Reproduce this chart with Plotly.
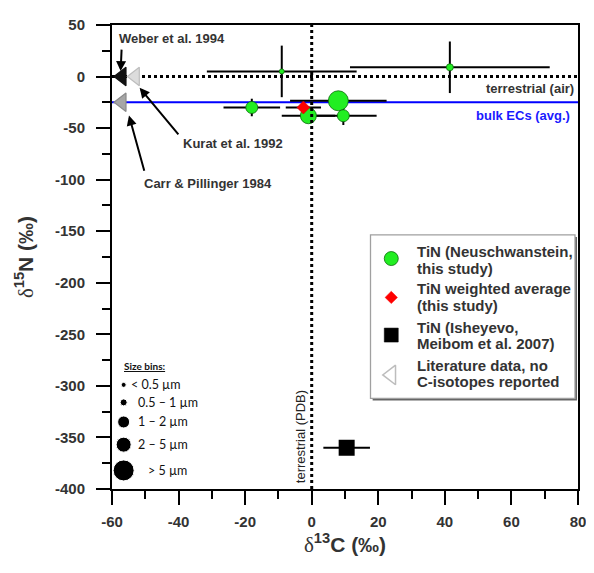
import plotly.graph_objects as go

# ---------------- data ----------------
# TiN (Neuschwanstein, this study)
tin_x = [-9, 41.5, -18, 8, -1, 9.5]
tin_y = [5, 9, -30, -23.5, -38, -38]
tin_xerr = [22.5, 30, 8.5, 14.5, 8, 10]
tin_yerr = [25, 25, 8.5, 5, 6, 9]
tin_size_px = [5, 7, 12, 20, 16, 12]

# TiN weighted average (this study)
avg_x = [-2.5]
avg_y = [-30]
avg_xerr = [5.3]

# TiN (Isheyevo, Meibom et al. 2007)
ish_x = [10.5]
ish_y = [-360]
ish_xerr = [7]

# Literature data, no C-isotopes reported
lit_names = ["Weber et al. 1994", "Carr & Pillinger 1984", "Kurat et al. 1992"]
lit_x = [-57, -57, -53]
lit_y = [0, -25, 0]

# reference lines
terr_air_n = 0
terr_pdb_c = 0
bulk_ec_n = -25

# keys
legend_labels = [["TiN (Neuschwanstein,", "this study)"],
                 ["TiN weighted average", "(this study)"],
                 ["TiN (Isheyevo,", "Meibom et al. 2007)"],
                 ["Literature data, no", "C-isotopes reported"]]
bin_labels = ["< 0.5 µm", "0.5 – 1 µm", "1 – 2 µm", "2 – 5 µm", "> 5 µm"]
bin_sizes = [5, 7, 12, 15, 21]

x_ticks = [-60, -40, -20, 0, 20, 40, 60, 80]
x_ticktext = ["-60", "-40", "-20", "0", "20", "40", "60", "80"]
y_ticks = [50, 0, -50, -100, -150, -200, -250, -300, -350, -400]
y_ticktext = ["50", "0", "-50", "-100", "-150", "-200", "-250", "-300", "-350", "-400"]

# ---------------- styling / layout ----------------
TXT = "#333333"
FONT = "Liberation Sans"
GREEN = "#22ee22"
GREEN_LINE = "#0a6a0a"
LITCOL = ["#111111", "#a6a6a6", "#dcdcdc"]
LITLINE = ["#111111", "#8a8a8a", "#bdbdbd"]
ERR = dict(color="black", thickness=2, width=0)
HIDDEN = dict(size=1, opacity=0)

fig = go.Figure()

# error bars first (drawn beneath all markers)
fig.add_trace(go.Scatter(x=tin_x, y=tin_y, mode="markers", showlegend=False, hoverinfo="skip",
                         marker=HIDDEN,
                         error_x=dict(type="data", array=tin_xerr, **ERR),
                         error_y=dict(type="data", array=tin_yerr, **ERR)))
fig.add_trace(go.Scatter(x=avg_x, y=avg_y, mode="markers", showlegend=False, hoverinfo="skip",
                         marker=HIDDEN, error_x=dict(type="data", array=avg_xerr, **ERR)))
fig.add_trace(go.Scatter(x=ish_x, y=ish_y, mode="markers", showlegend=False, hoverinfo="skip",
                         marker=HIDDEN, error_x=dict(type="data", array=ish_xerr, **ERR)))

# literature triangles
fig.add_trace(go.Scatter(
    x=lit_x, y=lit_y, mode="markers", showlegend=False, hoverinfo="text", text=lit_names,
    marker=dict(symbol="triangle-left", size=16, color=LITCOL, opacity=1,
                line=dict(color=LITLINE, width=1.2)),
))
# TiN Neuschwanstein
fig.add_trace(go.Scatter(
    x=tin_x, y=tin_y, mode="markers", showlegend=False,
    marker=dict(symbol="circle", size=tin_size_px, color=GREEN, opacity=1,
                line=dict(color=GREEN_LINE, width=0.8)),
))
# weighted average
fig.add_trace(go.Scatter(
    x=avg_x, y=avg_y, mode="markers", showlegend=False,
    marker=dict(symbol="diamond", size=10, color="#ff0000", opacity=1,
                line=dict(color="#cc0000", width=0.5)),
))
# Isheyevo
fig.add_trace(go.Scatter(
    x=ish_x, y=ish_y, mode="markers", showlegend=False,
    marker=dict(symbol="square", size=16, color="#000000", opacity=1),
))

# size bins key
bin_x = -56.5
bin_y = [-299, -316, -335, -357, -382]
bin_text_x = [-55, -52.9, -52.9, -52.9, -49.9]
fig.add_trace(go.Scatter(
    x=[bin_x] * len(bin_sizes), y=bin_y, mode="markers", showlegend=False, hoverinfo="skip",
    marker=dict(symbol="circle", size=bin_sizes, color="black", opacity=1),
))

# symbol key (legend box)
key_sym_x = 23.9
key_sym_y = [-176.5, -214.2, -250.7, -289.4]
key_text_x = 31.0
key_text_y = [[-170.1, -186.0], [-206.0, -222.4], [-243.1, -258.9], [-280.5, -295.7]]
fig.add_trace(go.Scatter(
    x=[key_sym_x] * 4, y=key_sym_y, mode="markers", showlegend=False, hoverinfo="skip",
    marker=dict(symbol=["circle", "diamond", "square", "triangle-left"],
                size=[14, 9.5, 14, 17],
                color=[GREEN, "#ff0000", "#000000", "white"], opacity=1,
                line=dict(color=[GREEN_LINE, "#ff0000", "#000000", "#bdbdbd"],
                          width=[0.8, 0.5, 0.5, 1.5])),
))

shapes = [
    dict(type="line", xref="x", yref="y", x0=-60, x1=80, y0=bulk_ec_n, y1=bulk_ec_n,
         line=dict(color="#0000ff", width=2), layer="below"),
    dict(type="line", xref="x", yref="y", x0=-60, x1=80, y0=terr_air_n, y1=terr_air_n,
         line=dict(color="black", width=3, dash="dot"), layer="below"),
    dict(type="line", xref="x", yref="y", x0=terr_pdb_c, x1=terr_pdb_c, y0=-400, y1=50,
         line=dict(color="black", width=3, dash="dot"), layer="above"),
    # legend box: shadow, then box
    dict(type="rect", xref="x", yref="y", x0=18.3, x1=79.7, y0=-155.5, y1=-314.2,
         fillcolor="#666666", line=dict(width=0), layer="below"),
    dict(type="rect", xref="x", yref="y", x0=17.66, x1=79.1, y0=-153.6, y1=-312.2,
         fillcolor="white", line=dict(color="#a0a0a0", width=1.3), layer="below"),
]

ann_font = dict(family=FONT, size=13, color=TXT, weight="bold")
annotations = [
    dict(x=-58.6, y=37.3, text="Weber et al. 1994", showarrow=False, xanchor="left",
         yanchor="middle", font=ann_font),
    dict(x=-39.3, y=-65.4, text="Kurat et al. 1992", showarrow=False, xanchor="left",
         yanchor="middle", font=ann_font),
    dict(x=-50.9, y=-103.5, text="Carr &amp; Pillinger 1984", showarrow=False, xanchor="left",
         yanchor="middle", font=ann_font),
    dict(x=79.3, y=-11.2, text="terrestrial (air)", showarrow=False, xanchor="right",
         yanchor="middle", font=ann_font),
    dict(x=78.3, y=-37.8, text="bulk ECs (avg.)", showarrow=False, xanchor="right",
         yanchor="middle", font=dict(family=FONT, size=13, color="#1a1aff", weight="bold")),
    dict(x=-3.3, y=-349, text="terrestrial (PDB)", showarrow=False, textangle=-90,
         xanchor="center", yanchor="middle", font=dict(family=FONT, size=13, color="#222222")),
    # arrows
    dict(x=-57.4, y=5.3, ax=1, ay=-23, text="", showarrow=True, arrowhead=2, arrowsize=1,
         arrowwidth=2, arrowcolor="black", standoff=0),
    dict(x=-51.7, y=-10.9, ax=40, ay=48, text="", showarrow=True, arrowhead=2, arrowsize=1,
         arrowwidth=2, arrowcolor="black", standoff=0),
    dict(x=-54.9, y=-37.8, ax=15.7, ay=56.7, text="", showarrow=True, arrowhead=2, arrowsize=1,
         arrowwidth=2, arrowcolor="black", standoff=0),
    # size bins key title
    dict(x=-57.0, y=-281, text="<u>Size bins:</u>", showarrow=False, xanchor="left",
         yanchor="middle", font=dict(family="Lato", size=10, color="#111111", weight="bold")),
]
for lab, tx, ty in zip(bin_labels, bin_text_x, bin_y):
    annotations.append(dict(x=tx, y=ty, text=lab, showarrow=False, xanchor="left",
                            yanchor="middle",
                            font=dict(family="Lato", size=12.5, color="#111111")))
key_font = dict(family=FONT, size=15, color=TXT, weight="bold")
for lines, ys in zip(legend_labels, key_text_y):
    for line, ty in zip(lines, ys):
        annotations.append(dict(x=key_text_x, y=ty, text=line, showarrow=False,
                                xanchor="left", yanchor="middle", font=key_font))

tick_font = dict(family=FONT, size=15, color=TXT, weight="bold")
axis_common = dict(
    showline=True, linecolor="black", linewidth=2, mirror=True,
    ticks="outside", ticklen=14, tickwidth=2, tickcolor="black",
    showgrid=False, zeroline=False, tickfont=tick_font,
)

fig.update_layout(
    width=586, height=565,
    margin=dict(l=104, r=11, t=8, b=84),
    paper_bgcolor="white", plot_bgcolor="white",
    font=dict(family=FONT, color=TXT),
    shapes=shapes, annotations=annotations,
    showlegend=False,
    xaxis=dict(range=[-60, 80], tickvals=x_ticks, ticktext=x_ticktext,
               minor=dict(dtick=10, ticks="outside", ticklen=8, tickwidth=2, tickcolor="black"),
               title=dict(text="<span style=\"font-family:'Liberation Serif';font-weight:normal\">δ</span><sup>13</sup>C (‰)",
                          font=dict(family=FONT, size=21, color=TXT, weight="bold"), standoff=8),
               ticklabelstandoff=4,
               **axis_common),
    yaxis=dict(range=[-400, 50], tickvals=y_ticks, ticktext=y_ticktext,
               minor=dict(dtick=25, ticks="outside", ticklen=8, tickwidth=2, tickcolor="black"),
               title=dict(text="<span style=\"font-family:'Liberation Serif';font-weight:normal\">δ</span><sup>15</sup>N (‰)",
                          font=dict(family=FONT, size=21, color=TXT, weight="bold"), standoff=16),
               ticklabelstandoff=8,
               **axis_common),
)

fig.write_html("out.html")
